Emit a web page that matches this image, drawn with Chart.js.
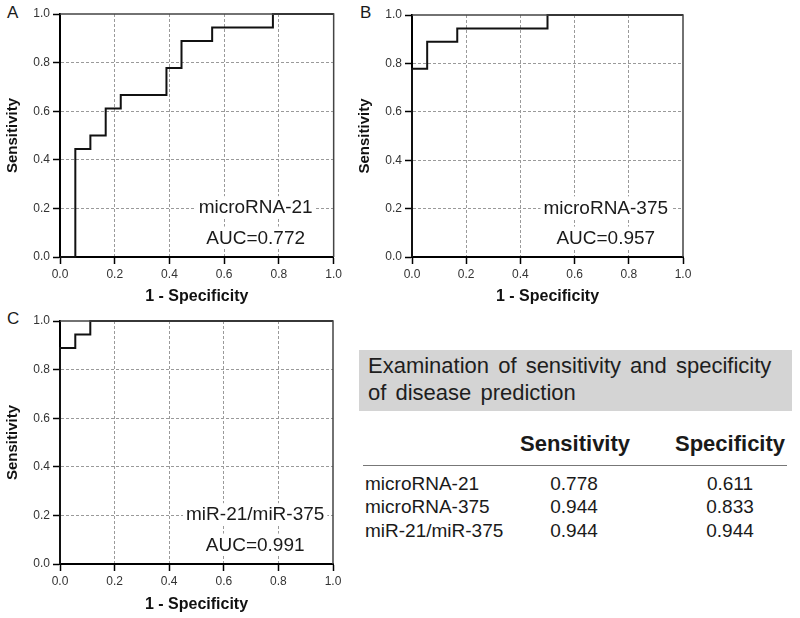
<!DOCTYPE html>
<html>
<head>
<meta charset="utf-8">
<script src="https://cdn.jsdelivr.net/npm/chart.js@4"></script>
<style>
    body { margin: 0; background: #fff; width: 800px; height: 618px; position: relative; overflow: hidden;
           font-family: Arial, "Liberation Sans", sans-serif; color: #1a1a1a; }
    canvas { position: absolute; }
    .panel-letter { position: absolute; font-size: 17px; line-height: 17px; }
    .txt { position: absolute; white-space: nowrap; }
    #titleBox { position: absolute; left: 359px; top: 350px; width: 433px; height: 61px; background: #d4d4d4;
                font-size: 22px; line-height: 27px; word-spacing: 3px; box-sizing: border-box; padding: 2px 0 0 9px; color: #1e1e1e; }
    #headLine { position: absolute; left: 363px; top: 465px; width: 424px; height: 0; border-top: 1px solid #777; }
</style>
</head>
<body>

<div class="panel-letter" style="left:7px; top:4px;">A</div>
<div class="panel-letter" style="left:360px; top:4px;">B</div>
<div class="panel-letter" style="left:7px; top:310px;">C</div>

<canvas id="rocA" width="345" height="310" style="left:0px; top:0px;"></canvas>
<canvas id="rocB" width="345" height="310" style="left:352px; top:0px;"></canvas>
<canvas id="rocC" width="345" height="313" style="left:0px; top:305px;"></canvas>

<div id="titleBox">Examination of sensitivity and specificity<br>of disease prediction</div>
<div id="headLine"></div>
<div id="table"></div>

<script>
// ======================================================
// Data
// ======================================================

const axisTicks = [0, 0.2, 0.4, 0.6, 0.8, 1.0];

// ROC points (1 - specificity, sensitivity)
const fprA = [0, 0.056, 0.111, 0.167, 0.222, 0.389, 0.444, 0.556, 0.778, 1];
const tprA = [0, 0.444, 0.5, 0.611, 0.667, 0.778, 0.889, 0.944, 1, 1];

const fprB = [0, 0, 0.056, 0.167, 0.5, 1];
const tprB = [0, 0.778, 0.889, 0.944, 1, 1];

const fprC = [0, 0, 0.056, 0.111, 1];
const tprC = [0, 0.889, 0.944, 1, 1];

const markers = ["microRNA-21", "microRNA-375", "miR-21/miR-375"];
const aucValues = ["0.772", "0.957", "0.991"];

const sensitivity = ["0.778", "0.944", "0.944"];
const specificity = ["0.611", "0.833", "0.944"];

const FONT = 'Arial, "Liberation Sans", sans-serif';

// ======================================================
// Plot border (top and right) + AUC labels
// ======================================================

const rocDecor = {
    id: "rocDecor",
    afterDatasetsDraw(chart, args, opts) {
        const ctx = chart.ctx;
        const a = chart.chartArea;
        const xs = chart.scales.x;
        const ys = chart.scales.y;

        ctx.save();
        ctx.strokeStyle = "#444";
        ctx.lineWidth = 1.5;
        ctx.beginPath();
        ctx.moveTo(a.left, a.top);
        ctx.lineTo(a.right, a.top);
        ctx.lineTo(a.right, a.bottom);
        ctx.stroke();

        ctx.font = "19px " + FONT;
        ctx.textAlign = "center";
        ctx.textBaseline = "middle";
        const cx = xs.getPixelForValue(0.715);
        [[opts.name, 0.205], ["AUC=" + opts.auc, 0.08]].forEach(([txt, yv]) => {
            const cy = ys.getPixelForValue(yv);
            const w = ctx.measureText(txt).width;
            ctx.fillStyle = "#fff";
            ctx.fillRect(cx - w / 2 - 3, cy - 11, w + 6, 22);
            ctx.fillStyle = "#1a1a1a";
            ctx.fillText(txt, cx, cy + 1);
        });
        ctx.restore();
    }
};

// ======================================================
// ROC chart
// ======================================================

function renderRoc(canvasId, fpr, tpr, name, auc, padTop, padRight, xAxisHeight) {

    const canvas = document.querySelector("#" + canvasId);

    const gridColor = (ctx) => (ctx.tick && ctx.tick.value > 0.01 && ctx.tick.value < 0.99) ? "#9a9a9a" : "rgba(0,0,0,0)";

    return new Chart(canvas, {
        type: "line",
        data: {
            datasets: [{
                data: fpr.map((x, i) => ({ x: x, y: tpr[i] })),
                borderColor: "#111",
                borderWidth: 2,
                pointRadius: 0,
                stepped: true,
                fill: false,
                clip: false
            }]
        },
        options: {
            responsive: false,
            animation: false,
            layout: { padding: { top: padTop, right: padRight, left: 0, bottom: 0 } },
            plugins: {
                legend: { display: false },
                tooltip: { enabled: false },
                rocDecor: { name: name, auc: auc }
            },
            scales: {
                x: {
                    type: "linear",
                    min: 0,
                    max: 1,
                    afterBuildTicks: (scale) => { scale.ticks = axisTicks.map(v => ({ value: v })); },
                    afterFit: (scale) => { scale.height = xAxisHeight; },
                    ticks: {
                        color: "#333",
                        font: { family: FONT, size: 12 },
                        padding: 3,
                        maxRotation: 0,
                        callback: (v) => Number(v).toFixed(1)
                    },
                    grid: {
                        color: gridColor,
                        lineWidth: 1,
                        tickLength: 7,
                        tickColor: "#000",
                        tickWidth: 1.5
                    },
                    border: { color: "#000", width: 2, dash: [3, 2] },
                    title: {
                        display: true,
                        text: "1 - Specificity",
                        color: "#111",
                        font: { family: FONT, size: 16, weight: "bold" },
                        padding: { top: 4, bottom: 4 }
                    }
                },
                y: {
                    type: "linear",
                    min: 0,
                    max: 1,
                    afterBuildTicks: (scale) => { scale.ticks = axisTicks.map(v => ({ value: v })); },
                    afterFit: (scale) => { scale.width = 60; },
                    ticks: {
                        color: "#333",
                        font: { family: FONT, size: 12 },
                        padding: 3,
                        callback: (v) => Number(v).toFixed(1)
                    },
                    grid: {
                        color: gridColor,
                        lineWidth: 1,
                        tickLength: 7,
                        tickColor: "#000",
                        tickWidth: 1.5
                    },
                    border: { color: "#000", width: 2, dash: [3, 2] },
                    title: {
                        display: true,
                        text: "Sensitivity",
                        color: "#111",
                        font: { family: FONT, size: 15, weight: "bold" },
                        padding: { top: 4, bottom: 4 }
                    }
                }
            }
        },
        plugins: [rocDecor]
    });
}

renderRoc("rocA", fprA, tprA, markers[0], aucValues[0], 14, 11, 53);
renderRoc("rocB", fprB, tprB, markers[1], aucValues[1], 15, 14, 53);
renderRoc("rocC", fprC, tprC, markers[2], aucValues[2], 16, 12, 54);

// ======================================================
// Table (sensitivity / specificity)
// ======================================================

function placeText(text, x, baseline, size, bold, align) {
    const el = document.createElement("div");
    el.className = "txt";
    el.textContent = text;
    el.style.fontSize = size + "px";
    el.style.lineHeight = size + "px";
    el.style.fontWeight = bold ? "bold" : "normal";
    el.style.top = (baseline - 0.8465 * size) + "px";
    if (align === "center") {
        el.style.left = (x - 60) + "px";
        el.style.width = "120px";
        el.style.textAlign = "center";
    } else {
        el.style.left = x + "px";
    }
    document.querySelector("#table").appendChild(el);
}

placeText("Sensitivity", 520, 452, 22, true);
placeText("Specificity", 675, 452, 22, true);

const rowBaselines = [490, 513, 537];

markers.forEach((m, i) => {
    placeText(m, 365, rowBaselines[i], 19, false);
    placeText(sensitivity[i], 574, rowBaselines[i], 19, false, "center");
    placeText(specificity[i], 730, rowBaselines[i], 19, false, "center");
});
</script>
</body>
</html>
